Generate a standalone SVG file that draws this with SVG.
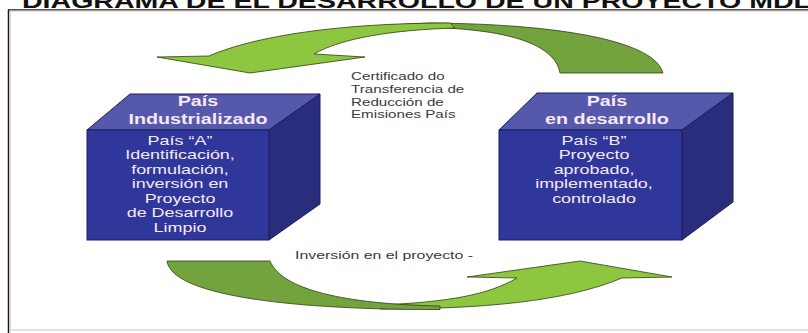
<svg xmlns="http://www.w3.org/2000/svg" width="808" height="333" viewBox="0 0 808 333">
<style>
.front{fill:#30379a;stroke:#1c1f5c;stroke-width:1}
.top{fill:#5558ab;stroke:#1c1f5c;stroke-width:1}
.side{fill:#2a2d7c;stroke:#1c1f5c;stroke-width:1}
.hd{font-family:"Liberation Sans",Arial,sans-serif;font-weight:bold;font-size:14.5px;fill:#f6e9f4;text-anchor:middle}
.bd{font-family:"Liberation Sans",Arial,sans-serif;font-size:13px;fill:#f6e9f4;text-anchor:middle}
.lb{font-family:"Liberation Sans",Arial,sans-serif;font-size:11px;fill:#3a3a3a}
.light{fill:#8dc63f;stroke:#2f3d14;stroke-width:0.8}
.dark{fill:#72a33c;stroke:#2f3d14;stroke-width:0.8}
.title{font-family:"Liberation Sans",Arial,sans-serif;font-weight:bold;font-size:21px;fill:#111}
</style>
<rect width="808" height="333" fill="#ffffff"/>
<g id="title">
<text class="title" transform="translate(22 0) scale(1.36 1)" x="0" y="8">DIAGRAMA DE EL DESARROLLO DE UN PROYECTO MDL</text>
</g>
<g id="frame">
<line x1="8" y1="10" x2="808" y2="10" stroke="#2a2020" stroke-width="1.5"/>
<line x1="9" y1="11" x2="808" y2="11" stroke="#f2c8c0" stroke-width="1"/>
<line x1="8.5" y1="9.5" x2="8.5" y2="333" stroke="#1a1a1a" stroke-width="1.5"/>
<line x1="10.5" y1="11" x2="10.5" y2="333" stroke="#f6d2c8" stroke-width="1"/>
<line x1="10" y1="330" x2="808" y2="330" stroke="#e2e2e2" stroke-width="2"/>
</g>
<g id="connectors">
<g id="arrow-top">
<path class="dark" d="M663 73 C655 42 565 24 430 23 L390 25 L445 28 C525 32 556 50 560 73 Z"/>
<path class="light" d="M450 23 C340 23 255 36 209 56 L157 57 L250 73 L365 57 L314 54 C342 38 392 30 455 28 Z"/>
</g>
<g id="arrow-bottom">
<path class="light" d="M380 309 C480 309 565 302 622 278 L672 277 L580 261 L467 277 L517 278 C488 295 448 302 380 305 Z"/>
<path class="dark" d="M167 261 L270 261 C282 290 345 304 440 306 L440 309.5 C300 310 172 297 167 261 Z"/>
</g>
</g>
<g id="node-left">
<polygon class="top" points="87,130 130,94 320,94 269,130"/>
<polygon class="side" points="269,130 320,94 320,204 269,240"/>
<rect class="front" x="87" y="130" width="182" height="110"/>
<text class="hd" transform="translate(198 0) scale(1.36 1)" x="0" y="106">País</text>
<text class="hd" transform="translate(198 0) scale(1.36 1)" x="0" y="124">Industrializado</text>
<text class="bd" transform="translate(180 0) scale(1.38 1)" x="0" y="145">País “A”</text>
<text class="bd" transform="translate(180 0) scale(1.38 1)" x="0" y="159.5">Identificación,</text>
<text class="bd" transform="translate(180 0) scale(1.38 1)" x="0" y="174">formulación,</text>
<text class="bd" transform="translate(180 0) scale(1.38 1)" x="0" y="188.5">inversión en</text>
<text class="bd" transform="translate(180 0) scale(1.38 1)" x="0" y="203">Proyecto</text>
<text class="bd" transform="translate(180 0) scale(1.38 1)" x="0" y="217.5">de Desarrollo</text>
<text class="bd" transform="translate(180 0) scale(1.38 1)" x="0" y="232">Limpio</text>
</g>
<g id="node-right">
<polygon class="top" points="499,130 537,93 733,93 682,130"/>
<polygon class="side" points="682,130 733,93 733,202 682,240"/>
<rect class="front" x="499" y="130" width="183" height="110"/>
<text class="hd" transform="translate(607 0) scale(1.36 1)" x="0" y="106">País</text>
<text class="hd" transform="translate(607 0) scale(1.36 1)" x="0" y="124">en desarrollo</text>
<text class="bd" transform="translate(594 0) scale(1.38 1)" x="0" y="145">País “B”</text>
<text class="bd" transform="translate(594 0) scale(1.38 1)" x="0" y="159.5">Proyecto</text>
<text class="bd" transform="translate(594 0) scale(1.38 1)" x="0" y="174">aprobado,</text>
<text class="bd" transform="translate(594 0) scale(1.38 1)" x="0" y="188.5">implementado,</text>
<text class="bd" transform="translate(594 0) scale(1.38 1)" x="0" y="203">controlado</text>
</g>
<g id="label-certificado">
<text class="lb" transform="translate(351 0) scale(1.38 1)" x="0" y="80">Certificado do</text>
<text class="lb" transform="translate(351 0) scale(1.38 1)" x="0" y="93">Transferencia de</text>
<text class="lb" transform="translate(351 0) scale(1.38 1)" x="0" y="106">Reducción de</text>
<text class="lb" transform="translate(351 0) scale(1.38 1)" x="0" y="118">Emisiones País</text>
</g>
<g id="label-inversion">
<text class="lb" style="font-size:11.5px" transform="translate(295 0) scale(1.38 1)" x="0" y="259">Inversión en el proyecto -</text>
</g>
</svg>
